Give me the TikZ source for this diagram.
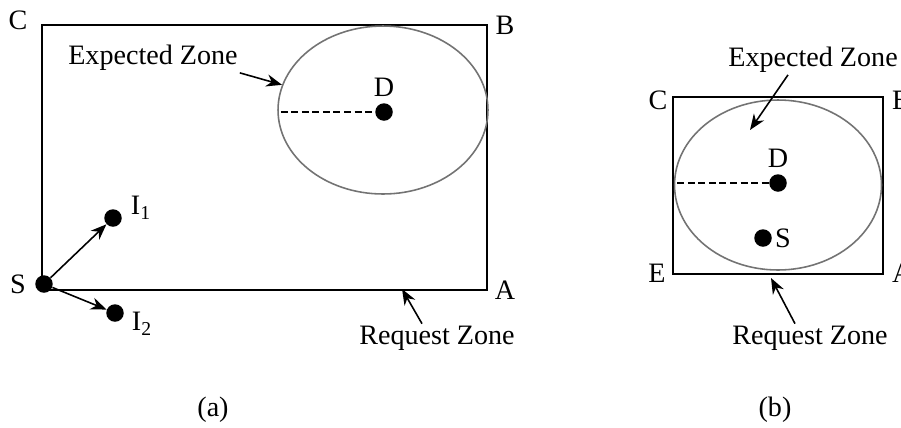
\documentclass[tikz,border=0pt]{standalone}
\usepackage{fontspec}
\setmainfont{Liberation Serif}
\usetikzlibrary{shapes.geometric, arrows.meta, positioning}

\begin{document}
\begin{tikzpicture}[
        x=0.02cm, y=-0.02cm,
        font=\fontsize{16}{18}\selectfont,
        zone/.style={rectangle, draw=black, line width=1.1pt, inner sep=0pt},
        area/.style={ellipse, draw=black!55, line width=0.9pt, inner sep=0pt},
        nodedot/.style={circle, fill=black, inner sep=0pt, minimum size=0.35cm},
        lbl/.style={inner sep=1pt},
        arrow/.style={line width=0.9pt, -{Stealth[length=9pt, width=7pt]}},
        rline/.style={line width=1.4pt, dash pattern=on 4pt off 2pt}
    ]
    \useasboundingbox (0,0) rectangle (901,427);

    % (a) Request Zone and Expected Zone
    \node[zone, minimum width=8.9cm, minimum height=5.3cm] (reqA) at (264.5,157.5) {};
    \node[area, minimum width=4.2cm, minimum height=3.36cm] (elA) at (383,110) {};
    \node[lbl] at (18,20) {C};
    \node[lbl] at (505,25) {B};
    \node[lbl] at (505,290) {A};

    % (a) nodes
    \node[nodedot] (sA) at (44,284) {};
    \node[nodedot] (i1A) at (113,218) {};
    \node[nodedot] (i2A) at (115,313) {};
    \node[nodedot] (dA) at (384,112) {};
    \node[lbl] at (18,284) {S};
    \node[lbl] at (141,208) {I\textsubscript{1}};
    \node[lbl] at (142,324) {I\textsubscript{2}};
    \node[lbl, above=0.08cm of dA] {D};

    % (a) connections
    \draw[arrow] (sA) -- (i1A);
    \draw[arrow] (sA) -- (i2A);
    \draw[rline] ([xshift=2pt]dA -| elA.west) -- (dA);

    % (a) zone labels
    \node[lbl] (ezA) at (153,58) {Expected Zone};
    \node[lbl] (rzA) at (437,338) {Request Zone};
    \coordinate (rzA tip) at (402,289);
    \draw[arrow] (ezA.south east) -- (elA.166);
    \draw[arrow] ([xshift=-0.3cm]rzA.north) -- (rzA tip);

    % (b) Request Zone and Expected Zone
    \node[zone, minimum width=4.2cm, minimum height=3.54cm] (reqB) at (778,185.5) {};
    \node[area, minimum width=4.14cm, minimum height=3.4cm] (elB) at (778,185) {};
    \node[lbl] at (658,100) {C};
    \node[lbl, anchor=west] at (890,100) {B};
    \node[lbl] at (657,273) {E};
    \node[lbl, anchor=west] at (890,273) {A};

    % (b) nodes
    \node[nodedot] (dB) at (778,183) {};
    \node[nodedot] (sB) at (763,238) {};
    \node[lbl, above=0.08cm of dB] {D};
    \node[lbl, right=0.02cm of sB] {S};
    \draw[rline] ([xshift=2pt]dB -| elB.west) -- (dB);

    % (b) zone labels
    \node[lbl] (ezB) at (813,60) {Expected Zone};
    \node[lbl] (rzB) at (810,338) {Request Zone};
    \coordinate (ezB tip) at (750,130);
    \coordinate (rzB tip) at (771,278);
    \draw[arrow] ([xshift=-0.5cm]ezB.south) -- (ezB tip);
    \draw[arrow] ([xshift=-0.3cm]rzB.north) -- (rzB tip);

    % Captions
    \node[lbl] (capA) at (213,410) {(a)};
    \node[lbl] (capB) at (775,410) {(b)};

\end{tikzpicture}
\end{document}
